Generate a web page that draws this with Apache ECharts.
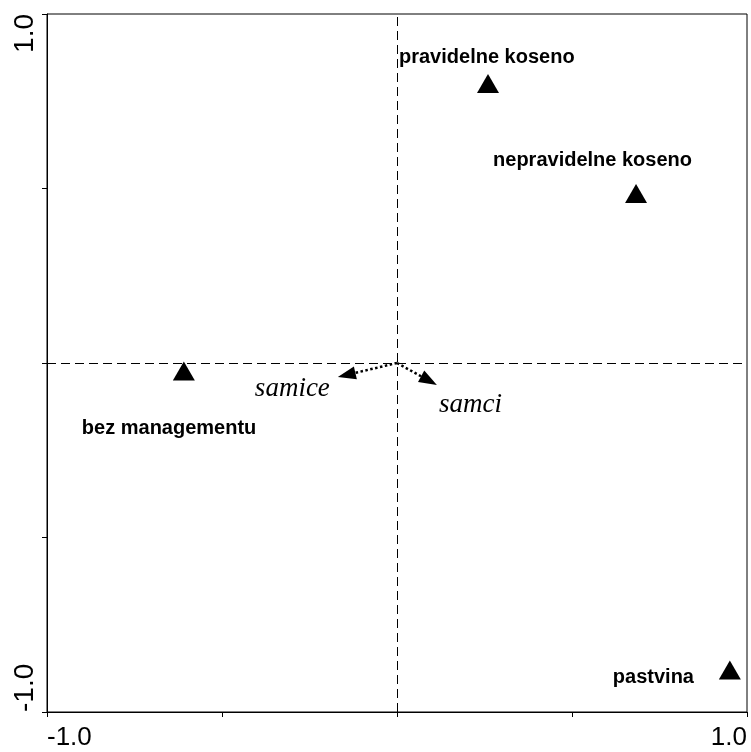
<!DOCTYPE html>
<html>
<head>
<meta charset="utf-8">
<script src="https://cdn.jsdelivr.net/npm/echarts@6/dist/echarts.min.js"></script>
<style>
html,body{margin:0;padding:0;background:#fff;}
#chart{width:751px;height:752px;}
</style>
</head>
<body>
<div id="chart"></div>
<script>
// ---- data ----
const siteNames = ['pravidelne koseno', 'nepravidelne koseno', 'bez managementu', 'pastvina'];
const siteX = [0.260, 0.683, -0.609, 0.951];
const siteY = [0.801, 0.486, -0.023, -0.880];

const sexNames = ['samice', 'samci'];
const sexX = [-0.169, 0.114];
const sexY = [-0.040, -0.063];

const tickLabels = { '-1': '-1.0', '1': '1.0' };

// ---- layout (label offsets in px relative to mark) ----
const siteLabelOffsets = [[-89, -26], [-143, -33], [-102, 57], [-117, 7]];
const sexLabelLayout = [
  { align: 'right', offset: [-8, 12] },
  { align: 'left', offset: [2, 20] }
];
const arrowHead = [13, 18];

const chart = echarts.init(document.getElementById('chart'), null, { renderer: 'canvas' });

const fmt = v => (tickLabels[String(v)] !== undefined ? tickLabels[String(v)] : '');

function arrowData(shorten) {
  return sexNames.map((n, i) => {
    let end = [sexX[i], sexY[i]];
    if (shorten) {
      const p0 = chart.convertToPixel({ gridIndex: 0 }, [0, 0]);
      const p1 = chart.convertToPixel({ gridIndex: 0 }, end);
      const dx = p1[0] - p0[0], dy = p1[1] - p0[1];
      const len = Math.sqrt(dx * dx + dy * dy);
      const h = arrowHead[1] / 2;
      end = chart.convertFromPixel({ gridIndex: 0 }, [p1[0] - dx / len * h, p1[1] - dy / len * h]);
    }
    return { name: n, coords: [[0, 0], end] };
  });
}

const option = {
  backgroundColor: '#fff',
  animation: false,
  grid: { left: 47, right: 4, top: 14, bottom: 40, show: true, borderColor: '#000', borderWidth: 1, backgroundColor: 'transparent' },
  xAxis: {
    type: 'value', min: -1, max: 1, interval: 0.5,
    axisLine: { show: true, onZero: false, lineStyle: { color: '#000', width: 1 } },
    axisTick: { show: true, length: 5, lineStyle: { color: '#000' } },
    splitLine: { show: false },
    axisLabel: {
      formatter: fmt, color: '#000', fontFamily: 'Liberation Sans, Arial, sans-serif', fontSize: 26,
      margin: 13, alignMinLabel: 'left', alignMaxLabel: 'right', showMinLabel: true, showMaxLabel: true
    }
  },
  yAxis: {
    type: 'value', min: -1, max: 1, interval: 0.5,
    axisLine: { show: true, onZero: false, lineStyle: { color: '#000', width: 1 } },
    axisTick: { show: true, length: 5, lineStyle: { color: '#000' } },
    splitLine: { show: false },
    axisLabel: {
      formatter: fmt, color: '#000', fontFamily: 'Liberation Sans, Arial, sans-serif', fontSize: 28,
      rotate: 90, margin: 8, alignMinLabel: 'left', alignMaxLabel: 'right', showMinLabel: true, showMaxLabel: true
    }
  },
  series: [
    {
      type: 'scatter',
      symbol: 'triangle',
      symbolSize: [22, 19],
      itemStyle: { color: '#000', opacity: 1 },
      emphasis: { disabled: true },
      data: siteNames.map((n, i) => ({
        name: n,
        value: [siteX[i], siteY[i]],
        label: {
          show: true, formatter: n, position: 'inside', align: 'left', verticalAlign: 'middle',
          offset: siteLabelOffsets[i], color: '#000', fontWeight: 'bold', fontSize: 20,
          fontFamily: 'Liberation Sans, Arial, sans-serif', opacity: 1
        }
      })),
      markLine: {
        silent: true, symbol: 'none', animation: false,
        label: { show: false },
        lineStyle: { color: '#000', width: 1, type: [9, 5], opacity: 1 },
        emphasis: { disabled: true },
        data: [{ xAxis: 0 }, { yAxis: 0 }]
      },
      z: 3
    },
    {
      type: 'lines',
      coordinateSystem: 'cartesian2d',
      symbol: ['none', 'triangle'],
      symbolSize: [0, arrowHead],
      lineStyle: { color: '#000', width: 2.5, type: 'dotted', opacity: 1 },
      itemStyle: { color: '#000', opacity: 1 },
      emphasis: { disabled: true },
      data: arrowData(false),
      z: 4
    },
    {
      type: 'scatter',
      symbolSize: 0,
      itemStyle: { opacity: 1 },
      emphasis: { disabled: true },
      data: sexNames.map((n, i) => ({
        name: n,
        value: [sexX[i], sexY[i]],
        label: {
          show: true, formatter: n, position: 'inside', align: sexLabelLayout[i].align, verticalAlign: 'middle',
          offset: sexLabelLayout[i].offset, color: '#000', fontStyle: 'italic', fontSize: 27,
          fontFamily: 'Liberation Serif, Times New Roman, serif'
        }
      })),
      z: 5
    }
  ]
};
chart.setOption(option);
chart.setOption({ series: [{}, { data: arrowData(true) }, {}] });
</script>
</body>
</html>
